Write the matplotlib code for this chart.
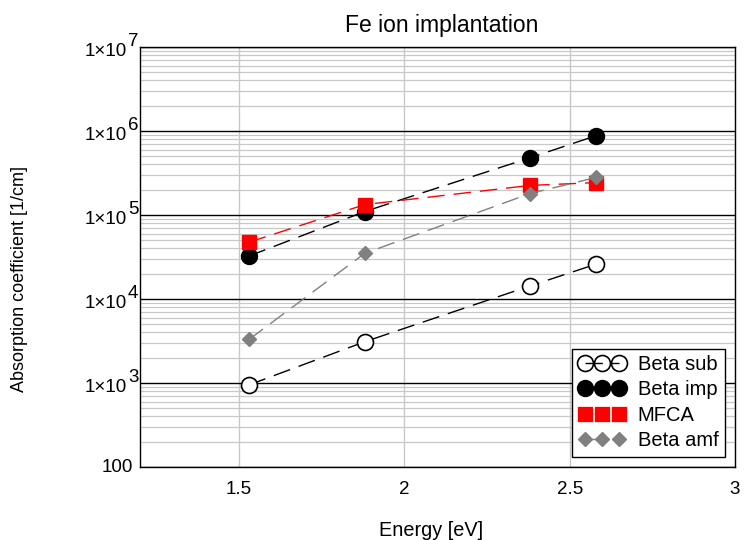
import matplotlib
matplotlib.use("Agg")
import matplotlib.pyplot as plt
import matplotlib.transforms as mtransforms
from matplotlib.lines import Line2D
from matplotlib.ticker import LogLocator, FixedLocator, NullFormatter

plt.rcParams['font.family'] = ['Liberation Sans', 'DejaVu Sans']

energy = [1.53, 1.88, 2.38, 2.58]
beta_sub = [950, 3100, 14300, 26000]
beta_imp = [32500, 110000, 480000, 880000]
mfca = [47500, 133000, 225000, 243000]
beta_amf = [3300, 35000, 180000, 280000]

x_ticks = [1.5, 2, 2.5, 3]
x_ticklabels = ['1.5', '2', '2.5', '3']
y_decades = [2, 3, 4, 5, 6, 7]

fig = plt.figure(figsize=(7.49, 5.40), dpi=100)
ax = fig.add_axes([140 / 749, 73 / 540, 595 / 749, 420 / 540])

dash = (0, (12.5, 6.5))
lw = 1.0
ax.plot(energy, beta_sub, color='black', lw=lw, linestyle=dash, marker='o',
        markersize=11.5, markerfacecolor='white', markeredgecolor='black', markeredgewidth=1.2,
        zorder=5)
ax.plot(energy, beta_imp, color='black', lw=lw, linestyle=dash, marker='o',
        markersize=11.5, markerfacecolor='black', markeredgecolor='black',
        zorder=5)
ax.plot(energy, mfca, color='red', lw=lw, linestyle=dash, marker='s',
        markersize=10.5, markerfacecolor='red', markeredgecolor='red',
        zorder=5)
ax.plot(energy, beta_amf, color='gray', lw=lw, linestyle=dash, marker='D',
        markersize=7.3, markerfacecolor='gray', markeredgecolor='gray',
        zorder=5)

ax.set_yscale('log')
ax.set_ylim(100, 1e7)
ax.set_xlim(1.2, 3)
ax.xaxis.set_major_locator(FixedLocator(x_ticks))
ax.set_xticklabels(x_ticklabels)

ax.yaxis.set_major_locator(FixedLocator([10.0 ** e for e in y_decades]))
ax.yaxis.set_major_formatter(NullFormatter())
ax.yaxis.set_minor_locator(LogLocator(base=10, subs=range(2, 10), numticks=20))
ax.yaxis.set_minor_formatter(NullFormatter())

ax.grid(True, which='major', axis='y', color='black', lw=1.0, zorder=1)
ax.grid(True, which='minor', axis='y', color='#c8c8c8', lw=0.9, zorder=0)
ax.grid(True, which='major', axis='x', color='#c8c8c8', lw=1.0, zorder=0)
ax.set_axisbelow(True)

ax.tick_params(axis='both', which='both', length=0, labelsize=13.5)
ax.tick_params(axis='x', pad=10)
for s in ax.spines.values():
    s.set_color('black')
    s.set_linewidth(1.0)

# y tick labels "1×10^n" with full-size raised exponent
trans = mtransforms.blended_transform_factory(ax.transAxes, ax.transData)
for e in y_decades:
    v = 10.0 ** e
    if e == 2:
        ax.annotate('100', xy=(0, v), xycoords=trans, xytext=(-7, -1),
                    textcoords='offset pixels', ha='right', va='center', fontsize=13.5)
    else:
        ax.annotate('1×10', xy=(0, v), xycoords=trans, xytext=(-13, -4.5),
                    textcoords='offset pixels', ha='right', va='center', fontsize=13.5)
        ax.annotate(str(e), xy=(0, v), xycoords=trans, xytext=(-12, 6),
                    textcoords='offset pixels', ha='left', va='center', fontsize=13.5)

ax.set_title('Fe ion implantation', fontsize=16.5, pad=10.5, x=0.507)
ax.set_xlabel('Energy [eV]', fontsize=14.3)
ax.xaxis.label.set_va('baseline')
ax.xaxis.set_label_coords((431 - 140) / 595, -(536 - 467) / 420)
ax.set_ylabel('Absorption coefficient [1/cm]', fontsize=13)
ax.yaxis.set_label_coords((28 - 140) / 595, (467 - 279) / 420)

handles = [
    Line2D([], [], color='black', lw=lw, linestyle=dash, marker='o', markersize=11.5,
           markerfacecolor='none', markeredgecolor='black', markeredgewidth=1.2),
    Line2D([], [], color='black', lw=lw, linestyle=dash, marker='o', markersize=11.5,
           markerfacecolor='black', markeredgecolor='black'),
    Line2D([], [], color='red', lw=lw, linestyle=dash, marker='s', markersize=11,
           markerfacecolor='red', markeredgecolor='white', markeredgewidth=0.5),
    Line2D([], [], color='gray', lw=lw, linestyle=dash, marker='D', markersize=7.3,
           markerfacecolor='gray', markeredgecolor='gray'),
]
labels = ['Beta sub', 'Beta imp', 'MFCA', 'Beta amf']
leg = ax.legend(handles, labels, loc='lower right', numpoints=3, fontsize=14.5,
                frameon=True, fancybox=False, edgecolor='black', framealpha=1,
                handlelength=2.29, handletextpad=0.65, borderpad=0.3,
                labelspacing=0.33, borderaxespad=0.52)
leg.get_frame().set_linewidth(1.0)

fig.savefig('out.png', dpi=100)
